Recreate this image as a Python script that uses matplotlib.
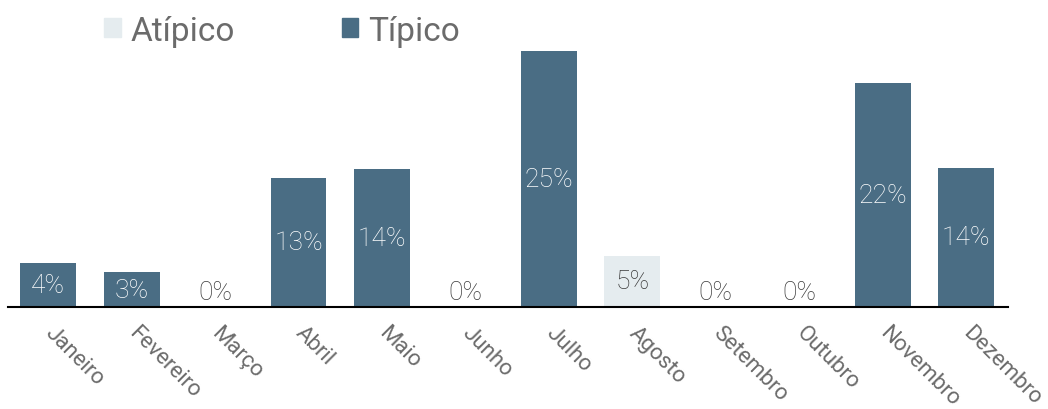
import numpy as np
import matplotlib.pyplot as plt
from matplotlib.patches import Patch

meses = ['Janeiro', 'Fevereiro', 'Março', 'Abril', 'Maio', 'Junho', 'Julho',
         'Agosto', 'Setembro', 'Outubro', 'Novembro', 'Dezembro']
valores = [4.3, 3.4, 0, 12.6, 13.5, 0, 25.0, 5.0, 0, 0, 21.9, 13.6]
rotulos = ['4%', '3%', '0%', '13%', '14%', '0%', '25%', '5%', '0%', '0%', '22%', '14%']
atipico = [False, False, False, False, False, False, False, True, False, False, False, False]

cor_tipico = '#4a6d84'
cor_atipico = '#e5ecef'
cor_texto = '#3a3a3a'
cor_eixo = '#6b6b6b'

plt.rcParams['font.family'] = ['Roboto', 'DejaVu Sans']

fig = plt.figure(figsize=(10.48, 4.10), dpi=100)
ax = fig.add_axes([8 / 1048, 1 - 308 / 410, 1000 / 1048, 256 / 410])

X = np.arange(len(meses))
cores = [cor_atipico if a else cor_tipico for a in atipico]
ax.bar(X, valores, width=0.67, color=cores)

for x, v, r, a in zip(X, valores, rotulos, atipico):
    if v == 0:
        ax.text(x, 0.3, r, ha='center', va='bottom', fontsize=19,
                color=cor_texto, fontweight='light')
    else:
        ax.text(x, v / 2, r, ha='center', va='center', fontsize=19,
                color=cor_texto if a else 'white', fontweight='light')

ax.set_xlim(-0.48, 11.5)
ax.set_ylim(0, 25)
ax.set_yticks([])
ax.set_xticks(X)
ax.set_xticklabels(meses, rotation=-45, ha='left', va='center', rotation_mode='anchor',
                   fontsize=16, color=cor_eixo)
ax.tick_params(axis='x', length=0, pad=16)
for s in ['top', 'left', 'right']:
    ax.spines[s].set_visible(False)
ax.spines['bottom'].set_linewidth(1.5)
ax.spines['bottom'].set_color('black')

handles = [Patch(color=cor_atipico, label='Atípico'), Patch(color=cor_tipico, label='Típico')]
leg = fig.legend(handles=handles, loc='upper left', bbox_to_anchor=(74 / 1048, 1.035), ncol=2,
                 frameon=False, fontsize=24, handlelength=0.5, handleheight=0.5,
                 handletextpad=0.3, columnspacing=3.2)
for t in leg.get_texts():
    t.set_color(cor_eixo)

fig.savefig('out.png', dpi=100)
